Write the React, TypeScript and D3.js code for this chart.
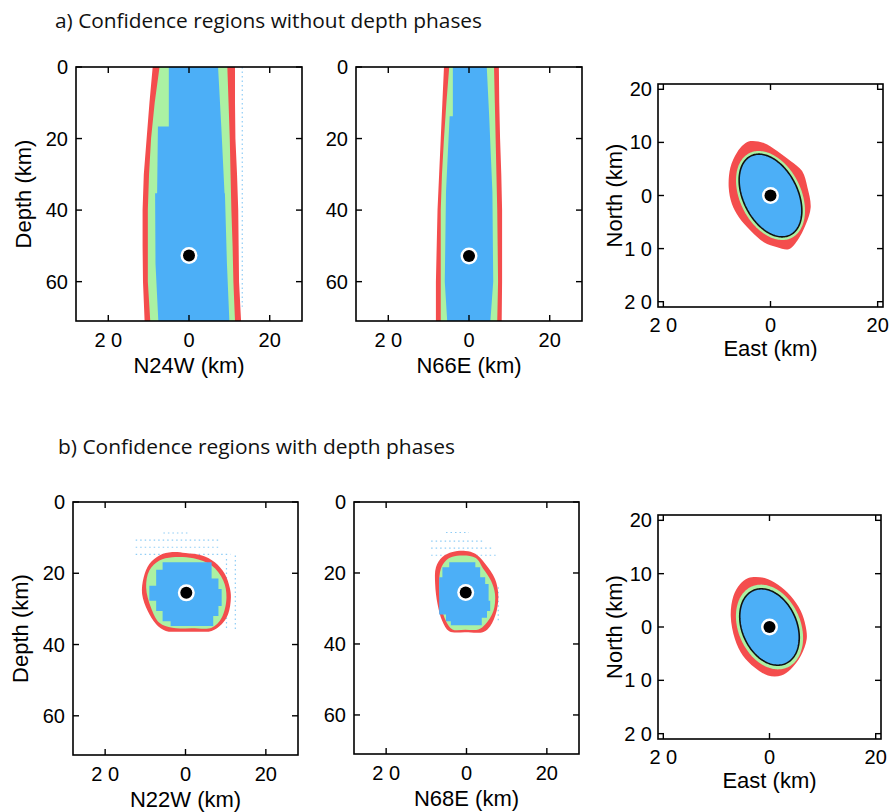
import React from "react";
import * as d3 from "d3";

// colours of the three confidence levels
const RED = "#f44d4d";
const GREEN = "#abf1a3";
const BLUE = "#4caff7";
const FAINT = "#8fcdf6";

// tick values / labels (the minus sign is lost in the original, shows as "2 0")
const depthTicks = [0, 20, 40, 60];
const depthTickLabels = ["0", "20", "40", "60"];
const crossTicks = [-20, 0, 20];
const crossTickLabels = ["2 0", "0", "20"];
const northTicks = [20, 10, 0, -10, -20];
const northTickLabels = ["20", "10", "0", "1 0", "2 0"];

// a) without depth phases -- bands over depth: depth (km), left / right edge (km)
const a1Depth = [0, 10, 20, 30, 40, 50, 60, 71];
const a1RedLo = [-9.0, -9.8, -10.5, -11.2, -11.5, -11.5, -11.4, -11.0];
const a1RedHi = [11.4, 11.4, 11.5, 11.9, 12.2, 12.3, 12.4, 12.9];
const a1GreenLo = [-7.3, -8.5, -9.4, -9.9, -10.2, -10.2, -10.2, -9.6];
const a1GreenHi = [9.5, 9.8, 10.1, 10.3, 10.5, 10.8, 11.0, 11.4];
const a1BlueDepth = [0, 16.6, 16.6, 35.3, 35.3, 55, 71];
const a1BlueLo = [-5.0, -5.0, -7.7, -7.9, -8.4, -8.3, -7.6];
const a1BlueHi = [7.2, 8.0, 8.0, 8.8, 8.9, 9.4, 10.0];

const a2Depth = [0, 10, 20, 30, 40, 50, 60, 71];
const a2RedLo = [-6.2, -6.6, -7.0, -7.4, -7.8, -8.0, -8.2, -8.2];
const a2RedHi = [7.4, 7.5, 7.7, 8.0, 8.2, 8.2, 8.2, 8.1];
const a2GreenLo = [-4.9, -5.6, -6.2, -6.7, -7.0, -7.0, -7.0, -7.0];
const a2GreenHi = [6.2, 6.4, 6.6, 6.8, 7.0, 7.1, 7.2, 7.0];
const a2BlueDepth = [0, 13.8, 13.8, 35, 60, 71];
const a2BlueLo = [-4.0, -4.0, -4.8, -5.7, -6.0, -5.4];
const a2BlueHi = [4.4, 5.0, 5.0, 5.8, 6.0, 5.3];

// b) with depth phases -- closed outlines (x km, depth km)
const b1RedX = [-3.3, 0, 4.1, 7.3, 9.8, 11, 11.3, 10.6, 9, 6.5, 3.3, -1.6, -4.9, -7.3, -9.4, -10.8, -10.4, -9, -6.5];
const b1RedD = [14.05, 14.3, 15, 16.9, 20.2, 24, 26.8, 31.5, 34.3, 36.2, 36.4, 36.4, 36.2, 34.3, 30.6, 25.8, 21.1, 17.4, 15];
const b1GreenX = [-3.3, 2, 6.5, 9.4, 10.2, 9, 6.5, 1.5, -3.3, -6.5, -8.6, -9.8, -9, -6.5];
const b1GreenD = [15.5, 15.8, 17.8, 22, 26.8, 32.5, 35.3, 35.4, 35.3, 33.9, 29.6, 24, 19.2, 16.4];
const b1BlueX = [-5.7, 6.5, 6.5, 8.2, 8.2, 9, 9, 8.2, 8.2, 6.9, 6.9, -3.7, -3.7, -5.7, -5.7, -7.3, -7.3, -9, -9, -7.3, -7.3, -5.7];
const b1BlueD = [16.9, 16.9, 21.5, 21.5, 24.4, 24.4, 29.2, 29.2, 32, 32, 34.8, 34.8, 33.5, 33.5, 30.6, 30.6, 27.7, 27.7, 23.5, 23.5, 19, 19];

const b2RedX = [-3.5, -0.25, 2.2, 4.65, 7.1, 7.9, 7.5, 5.9, 4.2, -0.25, -4.3, -6, -7.2, -7.8, -7.6, -6];
const b2RedD = [14.1, 13.8, 14.6, 17.4, 21.7, 26, 30.7, 35, 36.6, 36.7, 36.4, 33.6, 28.8, 23.1, 18.4, 15.5];
const b2GreenX = [-3.5, 2.2, 4.2, 6.1, 7.1, 6.7, 4.65, 3, -0.3, -3.5, -5.1, -6.4, -6.8, -6.4, -5.1];
const b2GreenD = [15.4, 15.7, 18.9, 22.2, 26, 30.7, 34.5, 35.9, 36, 35.9, 33.6, 28.8, 23.1, 18.9, 16.5];
const b2BlueX = [-4.3, 2.2, 2.2, 3.4, 3.4, 4.65, 4.65, 5.5, 5.5, 5.9, 5.9, 5.1, 5.1, 3.8, 3.8, -3.9, -3.9, -5.1, -5.1, -6.8, -6.8, -6, -6, -4.3];
const b2BlueD = [17, 17, 18.4, 18.4, 21.2, 21.2, 23.1, 23.1, 27.8, 27.8, 30.7, 30.7, 32.6, 32.6, 34.7, 34.7, 33.6, 33.6, 31.7, 31.7, 21.2, 21.2, 18.4, 18.4];

// faint scattered samples: [x0, d0, x1, d1]
const a1Faint = [[13.2, 0, 13.2, 67]];
const b1Faint = [[-5.5, 8.7, 1.2, 8.7], [-12.4, 10.7, 8.7, 10.7], [-12.4, 12.7, 8.7, 12.7], [-12.4, 14.7, 11.2, 14.7], [10.2, 16, 10.2, 36], [12.4, 15, 12.4, 36]];
const b2Faint = [[-5.1, 8.6, 0.6, 8.6], [-8.8, 11, 4.2, 11], [-8.8, 13, 6.7, 13], [-8.8, 15, 7.9, 15], [7.9, 24, 7.9, 34]];

// hypocentres
const a1Event = [0, 52.7];
const a2Event = [0, 52.8];
const b1Event = [0.2, 25.5];
const b2Event = [-0.2, 25.5];

// epicentre maps: error ellipse [semi-major, semi-minor, azimuth deg west of north]
const a3Ellipse = [8.3, 5.1, 26];
const a3GreenEllipse = [8.9, 5.7, 26];
const a3RedE = [-3.75, -1.25, 1.25, 3.75, 5.9, 6.9, 7.5, 6.6, 5.0, 3.4, 1.25, -1.25, -3.75, -5.9, -7.2, -7.8, -7.5, -6.25, -5.0];
const a3RedN = [10.25, 9.9, 8.4, 6.5, 4.6, 1.5, -2.25, -5.4, -8.5, -10.1, -9.75, -8.8, -6.6, -4.1, -1.6, 1.5, 5.25, 8.1, 9.6];
const b3Ellipse = [7.5, 5.15, 24];
const b3GreenEllipse = [8.3, 5.85, 24];
const b3RedE = [-4.0, -0.9, 1.55, 4.0, 5.9, 6.8, 7.0, 5.9, 4.0, 2.2, -0.3, -2.8, -5.0, -6.5, -7.3, -6.8, -5.6];
const b3RedN = [9.2, 9.2, 7.95, 5.8, 3.0, 0.2, -2.3, -5.4, -7.9, -9.1, -9.1, -7.6, -5.4, -2.3, 2.05, 5.8, 7.95];

const AXIS_FONT = "'Liberation Sans', Arial, sans-serif";
const TITLE_FONT = "'Open Sans', 'Noto Sans', sans-serif";

type Frame = { l: number; r: number; t: number; b: number };

const Event = ({ cx, cy }: { cx: number; cy: number }) => (
  <g>
    <circle cx={cx} cy={cy} r={8.5} fill="#fff" />
    <circle cx={cx} cy={cy} r={6} fill="#000" />
  </g>
);

const Frame = ({ f }: { f: Frame }) => (
  <rect x={f.l} y={f.t} width={f.r - f.l} height={f.b - f.t} fill="none" stroke="#000" strokeWidth={1.6} />
);

function band(x: d3.ScaleLinear<number, number>, y: d3.ScaleLinear<number, number>, depth: number[], lo: number[], hi: number[]) {
  return d3
    .area<number>()
    .y((d) => y(d))
    .x0((_, i) => x(lo[i]))
    .x1((_, i) => x(hi[i]))(depth) as string;
}

function outline(x: d3.ScaleLinear<number, number>, y: d3.ScaleLinear<number, number>, xs: number[], ys: number[], smooth: boolean) {
  return d3
    .line<number>()
    .x((v) => x(v))
    .y((_, i) => y(ys[i]))
    .curve(smooth ? d3.curveCatmullRomClosed : d3.curveLinearClosed)(xs) as string;
}

function ellipsePath(x: d3.ScaleLinear<number, number>, y: d3.ScaleLinear<number, number>, e: number[]) {
  const [a, b, az] = e;
  const th = (az * Math.PI) / 180;
  const ts = d3.range(0, 2 * Math.PI, Math.PI / 90);
  return d3
    .line<number>()
    .x((t) => x(-a * Math.cos(t) * Math.sin(th) + b * Math.sin(t) * Math.cos(th)))
    .y((t) => y(a * Math.cos(t) * Math.cos(th) + b * Math.sin(t) * Math.sin(th)))
    .curve(d3.curveLinearClosed)(ts) as string;
}

type DepthProps = {
  id: string;
  f: Frame;
  xlabel: string;
  ylabel?: string;
  event: number[];
  faint: number[][];
  draw: (x: d3.ScaleLinear<number, number>, y: d3.ScaleLinear<number, number>) => React.ReactNode;
};

const DepthPanel = ({ id, f, xlabel, ylabel, event, faint, draw }: DepthProps) => {
  const x = d3.scaleLinear().domain([-28, 28]).range([f.l, f.r]);
  const y = d3.scaleLinear().domain([0, 71]).range([f.t, f.b]);
  return (
    <g fontFamily={AXIS_FONT}>
      <defs>
        <clipPath id={id}>
          <rect x={f.l} y={f.t} width={f.r - f.l} height={f.b - f.t} />
        </clipPath>
      </defs>
      <g clipPath={`url(#${id})`}>
        {faint.map((s, i) => (
          <line key={i} x1={x(s[0])} y1={y(s[1])} x2={x(s[2])} y2={y(s[3])} stroke={FAINT} strokeWidth={1.2} strokeDasharray="1.5,3" />
        ))}
        {draw(x, y)}
        <Event cx={x(event[0])} cy={y(event[1])} />
      </g>
      {depthTicks.map((t, i) => (
        <g key={t}>
          <line x1={f.l} x2={f.l + 6} y1={y(t)} y2={y(t)} stroke="#000" strokeWidth={1.4} />
          <line x1={f.r} x2={f.r - 6} y1={y(t)} y2={y(t)} stroke="#000" strokeWidth={1.4} />
          <text x={f.l - 8} y={y(t) + 7} textAnchor="end" fontSize={20}>
            {depthTickLabels[i]}
          </text>
        </g>
      ))}
      {crossTicks.map((t, i) => (
        <g key={t}>
          <line x1={x(t)} x2={x(t)} y1={f.b} y2={f.b - 6} stroke="#000" strokeWidth={1.4} />
          <line x1={x(t)} x2={x(t)} y1={f.t} y2={f.t + 6} stroke="#000" strokeWidth={1.4} />
          <text x={x(t)} y={f.b + 26} textAnchor="middle" fontSize={20}>
            {crossTickLabels[i]}
          </text>
        </g>
      ))}
      <Frame f={f} />
      <text x={(f.l + f.r) / 2} y={f.b + 52} textAnchor="middle" fontSize={22}>
        {xlabel}
      </text>
      {ylabel && (
        <text transform={`translate(${f.l - 45},${(f.t + f.b) / 2}) rotate(-90)`} textAnchor="middle" fontSize={22}>
          {ylabel}
        </text>
      )}
    </g>
  );
};

const MapPanel = ({ f, ell, green, redE, redN }: { f: Frame; ell: number[]; green: number[]; redE: number[]; redN: number[] }) => {
  const x = d3.scaleLinear().domain([-21, 21]).range([f.l, f.r]);
  const y = d3.scaleLinear().domain([-21, 21]).range([f.b, f.t]);
  return (
    <g fontFamily={AXIS_FONT}>
      <path d={outline(x, y, redE, redN, true)} fill={RED} />
      <path d={ellipsePath(x, y, green)} fill={GREEN} />
      <path d={ellipsePath(x, y, ell)} fill={BLUE} stroke="#111" strokeWidth={1.6} />
      <Event cx={x(0)} cy={y(0)} />
      {northTicks.map((t, i) => (
        <g key={t}>
          <line x1={f.l} x2={f.l + 6} y1={y(t)} y2={y(t)} stroke="#000" strokeWidth={1.4} />
          <line x1={f.r} x2={f.r - 6} y1={y(t)} y2={y(t)} stroke="#000" strokeWidth={1.4} />
          <text x={f.l - 6} y={y(t) + 7} textAnchor="end" fontSize={20}>
            {northTickLabels[i]}
          </text>
        </g>
      ))}
      {crossTicks.map((t, i) => (
        <g key={t}>
          <line x1={x(t)} x2={x(t)} y1={f.b} y2={f.b - 6} stroke="#000" strokeWidth={1.4} />
          <line x1={x(t)} x2={x(t)} y1={f.t} y2={f.t + 6} stroke="#000" strokeWidth={1.4} />
          <text x={x(t)} y={f.b + 25} textAnchor="middle" fontSize={20}>
            {crossTickLabels[i]}
          </text>
        </g>
      ))}
      <Frame f={f} />
      <text x={(f.l + f.r) / 2} y={f.b + 49} textAnchor="middle" fontSize={22}>
        East (km)
      </text>
      <text transform={`translate(${f.l - 36},${(f.t + f.b) / 2}) rotate(-90)`} textAnchor="middle" fontSize={22}>
        North (km)
      </text>
    </g>
  );
};

export default function App() {
  return (
    <svg width={891} height={812} style={{ position: "absolute", left: 0, top: 0, background: "#fff" }}>
      <text x={55} y={28} fontFamily={TITLE_FONT} fontSize={20} textLength={427} lengthAdjust="spacingAndGlyphs" fill="#111">
        a) Confidence regions without depth phases
      </text>
      <text x={58} y={454} fontFamily={TITLE_FONT} fontSize={20} textLength={397} lengthAdjust="spacingAndGlyphs" fill="#111">
        b) Confidence regions with depth phases
      </text>

      <DepthPanel
        id="a1"
        f={{ l: 76, r: 302, t: 67, b: 321 }}
        xlabel="N24W (km)"
        ylabel="Depth (km)"
        event={a1Event}
        faint={a1Faint}
        draw={(x, y) => (
          <>
            <path d={band(x, y, a1Depth, a1RedLo, a1RedHi)} fill={RED} />
            <path d={band(x, y, a1Depth, a1GreenLo, a1GreenHi)} fill={GREEN} />
            <path d={band(x, y, a1BlueDepth, a1BlueLo, a1BlueHi)} fill={BLUE} />
          </>
        )}
      />
      <DepthPanel
        id="a2"
        f={{ l: 356, r: 582, t: 67, b: 321 }}
        xlabel="N66E (km)"
        event={a2Event}
        faint={[]}
        draw={(x, y) => (
          <>
            <path d={band(x, y, a2Depth, a2RedLo, a2RedHi)} fill={RED} />
            <path d={band(x, y, a2Depth, a2GreenLo, a2GreenHi)} fill={GREEN} />
            <path d={band(x, y, a2BlueDepth, a2BlueLo, a2BlueHi)} fill={BLUE} />
          </>
        )}
      />
      <MapPanel f={{ l: 658, r: 883, t: 84, b: 307 }} ell={a3Ellipse} green={a3GreenEllipse} redE={a3RedE} redN={a3RedN} />

      <DepthPanel
        id="b1"
        f={{ l: 73, r: 298, t: 502, b: 755 }}
        xlabel="N22W (km)"
        ylabel="Depth (km)"
        event={b1Event}
        faint={b1Faint}
        draw={(x, y) => (
          <>
            <path d={outline(x, y, b1RedX, b1RedD, true)} fill={RED} />
            <path d={outline(x, y, b1GreenX, b1GreenD, true)} fill={GREEN} />
            <path d={outline(x, y, b1BlueX, b1BlueD, false)} fill={BLUE} />
          </>
        )}
      />
      <DepthPanel
        id="b2"
        f={{ l: 354, r: 579, t: 502, b: 754 }}
        xlabel="N68E (km)"
        event={b2Event}
        faint={b2Faint}
        draw={(x, y) => (
          <>
            <path d={outline(x, y, b2RedX, b2RedD, true)} fill={RED} />
            <path d={outline(x, y, b2GreenX, b2GreenD, true)} fill={GREEN} />
            <path d={outline(x, y, b2BlueX, b2BlueD, false)} fill={BLUE} />
          </>
        )}
      />
      <MapPanel f={{ l: 658, r: 881, t: 515, b: 739 }} ell={b3Ellipse} green={b3GreenEllipse} redE={b3RedE} redN={b3RedN} />
    </svg>
  );
}
